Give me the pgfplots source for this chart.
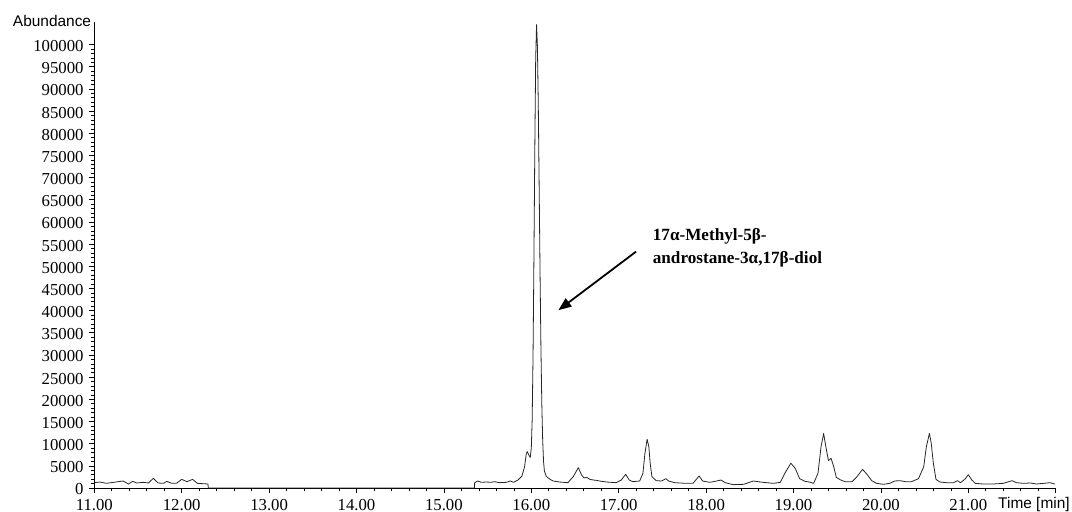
\documentclass[border=0pt]{standalone}
\usepackage{fontspec}
\setmainfont{Liberation Serif}
\newfontfamily\arialfont{Liberation Sans}
\usepackage{pgfplots}
\usepackage{pgfplotstable}
\pgfplotsset{compat=1.18}
\usetikzlibrary{arrows.meta}
\pgfplotstableread{
t v
11.00 1200
11.065 1350
11.14 1050
11.22 1280
11.33 1580
11.39 900
11.44 1500
11.485 1130
11.56 1280
11.62 1130
11.675 2180
11.73 1130
11.79 1050
11.83 1500
11.885 1050
11.94 1050
12.00 1950
12.06 1430
12.125 1950
12.18 1050
12.30 900
12.305 0
15.35 0
15.352 1200
15.389 1580
15.428 1280
15.485 1350
15.542 1280
15.58 1430
15.637 1200
15.714 1280
15.76 1580
15.797 1280
15.847 1800
15.893 2700
15.923 4800
15.943 7800
15.954 8200
15.975 7300
15.988 6900
16.00 9000
16.01 15400
16.02 30100
16.03 51600
16.04 76300
16.05 96600
16.06 104500
16.07 99600
16.08 86300
16.09 67900
16.10 48700
16.11 31900
16.12 19200
16.13 10900
16.14 6000
16.15 3800
16.17 2700
16.19 2300
16.22 1900
16.25 1580
16.324 1350
16.419 1200
16.48 2560
16.538 4600
16.576 2900
16.603 2260
16.634 2400
16.67 1950
16.71 1800
16.744 1730
16.78 1580
16.86 1350
16.97 1200
17.03 1800
17.08 3100
17.12 1800
17.16 1430
17.24 1580
17.277 3300
17.30 7800
17.325 11000
17.345 9300
17.36 5600
17.38 2560
17.43 1650
17.49 1580
17.54 2100
17.57 1580
17.64 1200
17.77 1050
17.85 1050
17.92 2700
17.96 1580
18.04 1280
18.08 1400
18.17 1800
18.22 1200
18.31 750
18.43 830
18.54 1580
18.65 1280
18.77 1050
18.85 1280
18.90 3300
18.97 5600
19.02 4400
19.07 2100
19.13 1500
19.18 1350
19.23 1050
19.28 3300
19.315 9300
19.345 12300
19.37 9300
19.40 6200
19.43 6700
19.46 4800
19.49 2400
19.54 1800
19.59 1430
19.67 1430
19.72 2400
19.79 4200
19.84 3100
19.895 1650
19.95 1050
20.03 830
20.10 1050
20.16 1580
20.22 1650
20.28 1430
20.35 1430
20.43 2100
20.49 4800
20.52 9300
20.555 12300
20.576 10100
20.60 5600
20.63 1950
20.675 1350
20.75 1200
20.83 1200
20.875 1650
20.91 1200
20.96 1950
21.00 3000
21.04 1800
21.08 1050
21.17 900
21.285 900
21.40 1050
21.50 1650
21.55 1200
21.63 1050
21.71 1130
21.78 900
21.86 1050
21.935 1200
21.99 900
}\trace
\begin{document}
\begin{tikzpicture}
\useasboundingbox (-94.3bp,-24bp) rectangle (977.7bp,488bp);
\begin{axis}[
  at={(0,0)}, anchor=south west,
  scale only axis, width=961.4bp, height=465.6bp,
  xmin=11, xmax=22, ymin=0, ymax=105000,
  axis lines*=left,
  axis line style={black, line width=0.8bp},
  scaled y ticks=false, scaled x ticks=false,
  xtick={11,...,22},
  xticklabels={11.00,12.00,13.00,14.00,15.00,16.00,17.00,18.00,19.00,20.00,21.00,{}},
  minor x tick num=4,
  ytick={0,5000,...,100000},
  yticklabels={0,5000,10000,15000,20000,25000,30000,35000,40000,45000,50000,55000,60000,65000,70000,75000,80000,85000,90000,95000,100000},
  minor y tick num=4,
  tick align=outside,
  major tick length=5bp, minor tick length=3.5bp,
  tick style={black, line width=0.6bp},
  ticklabel style={font=\fontsize{16.8}{20}\selectfont, inner sep=0pt},
  xticklabel style={anchor=base, yshift=-17.4bp},
  yticklabel style={anchor=east, xshift=-5.6bp, yshift=-1.5bp},
  clip=false,
]
\addplot[color=black!85, line width=0.8bp, line join=round] table[x=t, y=v] {\trace};
\node[anchor=base east, inner sep=0, font=\arialfont\fontsize{15.5}{18}\selectfont] at (rel axis cs:0,1) [xshift=-3bp, yshift=-4.3bp] {Abundance};
\node[anchor=base west, inner sep=0, font=\arialfont\fontsize{15.5}{18}\selectfont] at (rel axis cs:0.94,0) [yshift=-20.5bp] {Time [min]};
\node[anchor=base west, inner sep=0, font=\bfseries\fontsize{17.2}{20}\selectfont] at (axis cs:17.389,55900) {17α-Methyl-5β-};
\node[anchor=base west, inner sep=0, font=\bfseries\fontsize{17.2}{20}\selectfont] at (axis cs:17.389,50700) {androstane-3α,17β-diol};
\draw[line width=1.8bp, -{Triangle[length=13bp,width=10bp]}] (axis cs:17.198,53300) -- (axis cs:16.31,40100);
\end{axis}
\end{tikzpicture}
\end{document}
